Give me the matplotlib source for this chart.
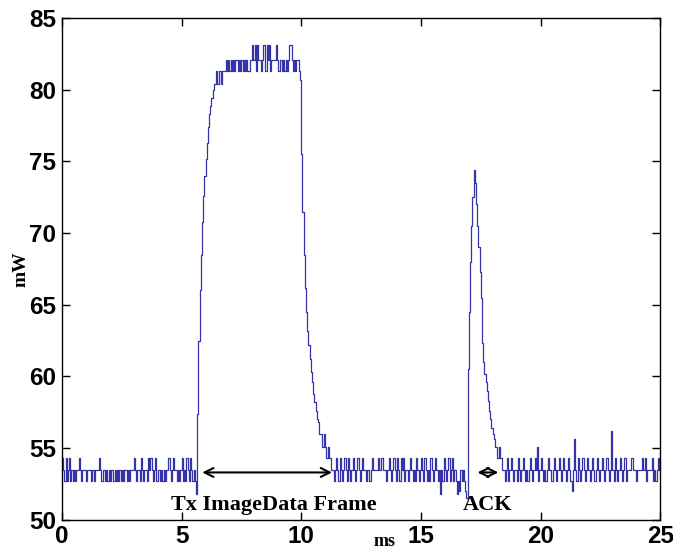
import matplotlib.pyplot as plt
import numpy as np

# sample spacing of the power trace (ms)
dt = 0.05

# quantised noise levels (mW) used by the code strings below
level = {'w': 51.8, 'v': 52.0, '-': 52.7, '0': 53.5, '+': 54.3, '^': 55.1,
         'A': 55.6, 'H': 56.2, 'd': 81.3, 'p': 82.1, 'u': 83.1}

# idle before the image frame: 0.00 .. 5.55 ms
idle1 = ("+0-+-0+-0-" "0-00+0-000" "-000-00-00" "0+0-00-0-0"
         "-00-0-0-0-" "0-00-0-000" "+0-00-+0-0" "0-+0+0-0+-"
         "00-0-0-00+" "0-0+00-0-0" "+-0-+0-+0-" "0-")
# rising edge of the Tx frame: 5.60 .. 6.90 ms
rise = [51.8, 57.4, 62.5, 66.0, 68.5, 70.8, 72.6, 74.0, 75.2, 76.3, 77.4,
        78.3, 78.9, 79.4, 80.0, 80.4, 80.4, 81.3, 80.4, 81.3, 81.3, 80.4,
        81.3, 81.3, 81.3, 82.1, 81.3]
# plateau: 6.95 .. 9.90 ms
plateau = ("pdpdpdppdp" "dpdpdpddpp" "upuduppdpu" "udupudpppp"
           "updppdpdpd" "puupdpdppd")
# falling edge: 9.95 .. 11.25 ms
fall = [80.7, 75.5, 71.5, 68.5, 66.2, 64.5, 63.2, 62.2, 61.2, 60.3, 59.6,
        58.8, 58.2, 57.6, 57.0, 56.8, 56.0, 56.0, 55.1, 55.1, 56.0, 55.1,
        54.3, 55.1, 54.3, 54.3, 53.5]
# idle between frame and ACK: 11.30 .. 16.80 ms
idle2 = ("0-0+0-+0-0" "+0-+0-0+0-" "0+0-0+00-0" "0-0+0000+0"
         "0+000-0+0-" "0+0-+0-+0+" "-00-0+0-0-" "+0-0+0-+0-"
         "0-+0-0+0-0" "w0-+0-0+-0" "+-0-w-v0-0" "-")
# ACK pulse: 16.85 .. 18.40 ms
ack = [52.0, 51.5, 60.5, 64.5, 68.0, 70.5, 72.5, 74.4, 73.5, 72.0, 70.5,
       69.0, 67.3, 65.5, 62.3, 61.0, 60.2, 59.6, 59.0, 58.3, 57.6, 57.0,
       56.4, 56.0, 55.6, 55.1, 55.1, 54.3, 55.1, 54.3, 54.3, 53.5]
# idle after ACK: 18.45 .. 25.00 ms
idle3 = ("0-0+-0+0-0" "0-+0-0+0-0" "-0+0-0+0^-" "0+0-0-0+00"
         "-0+0-0+0-0" "+0-0+0-v0A" "0-+0-0+0-0" "+0-0+0-0+0"
         "-0+0-0+0-0" "H0-+0-0+0-" "0+-0000+00" "0-0000+0+-"
         "0000+-0-0+" "00")

power = ([level[c] for c in idle1] + rise + [level[c] for c in plateau] + fall
         + [level[c] for c in idle2] + ack + [level[c] for c in idle3])
t = np.arange(len(power)) * dt

fig = plt.figure(figsize=(6.73, 5.5), dpi=100)
ax = fig.add_axes([0.092, 0.055, 0.889, 0.912])
ax.plot(t, power, color='#3434a8', lw=0.9, drawstyle='steps-post')

ax.set_xlim(0, 25)
ax.set_ylim(50, 85)
ax.set_xticks([0, 5, 10, 15, 20, 25])
ax.set_yticks([50, 55, 60, 65, 70, 75, 80, 85])
ax.tick_params(direction='in', top=True, right=True, length=6, width=1, pad=4)
for lab in ax.get_xticklabels() + ax.get_yticklabels():
    lab.set_family(['Liberation Sans Narrow', 'Liberation Sans'])
    lab.set_fontweight('bold')
    lab.set_fontsize(17.5)
for sp in ax.spines.values():
    sp.set_linewidth(1)

serif = ['Liberation Serif', 'DejaVu Serif']
ax.set_ylabel('mW', family=serif, fontweight='bold', fontsize=14, labelpad=0)
fig.text(0.572, 0.0, 'ms', family=serif, fontweight='bold', fontsize=13,
         ha='center', va='bottom')

# duration arrows and labels
arr = dict(arrowstyle='<->', color='black', lw=1.5, mutation_scale=16)
ax.annotate('', xy=(5.75, 53.3), xytext=(11.4, 53.3), arrowprops=arr)
ax.annotate('', xy=(17.25, 53.3), xytext=(18.35, 53.3), arrowprops=arr)
ax.text(8.85, 51.0, 'Tx ImageData Frame', family=serif, fontweight='bold',
        fontsize=16, ha='center', va='center')
ax.text(17.8, 51.0, 'ACK', family=serif, fontweight='bold', fontsize=16,
        ha='center', va='center')

fig.savefig('out.png', dpi=100)
